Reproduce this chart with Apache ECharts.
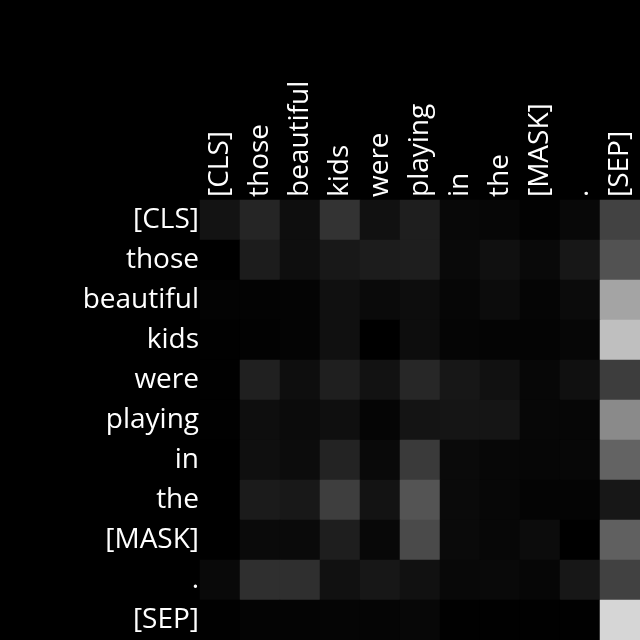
<!DOCTYPE html>
<html>
<head>
<meta charset="utf-8">
<script src="https://cdn.jsdelivr.net/npm/echarts@6/dist/echarts.min.js"></script>
<style>
  html, body { margin: 0; padding: 0; background: #000; }
  #chart { width: 640px; height: 640px; }
</style>
</head>
<body>
<div id="chart"></div>
<script>
// tokens of the sentence, same order on both axes
var tokens = ['[CLS]', 'those', 'beautiful', 'kids', 'were', 'playing', 'in', 'the', '[MASK]', '.', '[SEP]'];

// attention weights, one row per query token
var rowCLS      = [.075, .145, .055, .200, .067, .118, .031, .024, .008, .031, .259];
var rowThose    = [.000, .110, .055, .094, .110, .118, .035, .063, .035, .090, .322];
var rowBeautiful= [.012, .012, .016, .063, .039, .051, .024, .047, .020, .043, .643];
var rowKids     = [.004, .008, .016, .063, .000, .051, .020, .016, .016, .024, .749];
var rowWere     = [.004, .125, .055, .122, .071, .153, .090, .067, .027, .063, .239];
var rowPlaying  = [.004, .055, .043, .059, .020, .078, .082, .082, .027, .024, .541];
var rowIn       = [.000, .059, .047, .137, .035, .227, .039, .027, .024, .027, .388];
var rowThe      = [.000, .106, .094, .243, .075, .329, .039, .027, .016, .016, .090];
var rowMask     = [.000, .039, .039, .118, .031, .290, .039, .027, .047, .000, .376];
var rowDot      = [.035, .184, .184, .067, .090, .067, .031, .035, .024, .090, .255];
var rowSEP      = [.004, .016, .016, .020, .020, .027, .004, .004, .004, .004, .839];

var rows = [rowCLS, rowThose, rowBeautiful, rowKids, rowWere, rowPlaying,
            rowIn, rowThe, rowMask, rowDot, rowSEP];

var cells = [];
rows.forEach(function (row, y) {
  row.forEach(function (v, x) {
    cells.push([x, y, v]);
  });
});

var chart = echarts.init(document.getElementById('chart'));
var labelFont = { color: '#fff', fontSize: 28, fontFamily: 'Open Sans' };

chart.setOption({
  backgroundColor: '#000',
  animation: false,
  grid: { left: 200, top: 200, right: 0, bottom: 0 },
  xAxis: {
    type: 'category',
    data: tokens,
    position: 'top',
    axisLine: { show: false },
    axisTick: { show: false },
    splitLine: { show: false },
    axisLabel: Object.assign({ rotate: -90, margin: 3, interval: 0, padding: [4, 0, 0, 0] }, labelFont)
  },
  yAxis: {
    type: 'category',
    data: tokens,
    inverse: true,
    axisLine: { show: false },
    axisTick: { show: false },
    splitLine: { show: false },
    axisLabel: Object.assign({ margin: 1, interval: 0, padding: [3, 0, 0, 0] }, labelFont)
  },
  visualMap: {
    show: false,
    min: 0,
    max: 1,
    dimension: 2,
    inRange: { color: ['#000000', '#ffffff'] }
  },
  series: [{
    type: 'heatmap',
    data: cells,
    silent: true,
    itemStyle: { borderWidth: 0 }
  }]
});
</script>
</body>
</html>
